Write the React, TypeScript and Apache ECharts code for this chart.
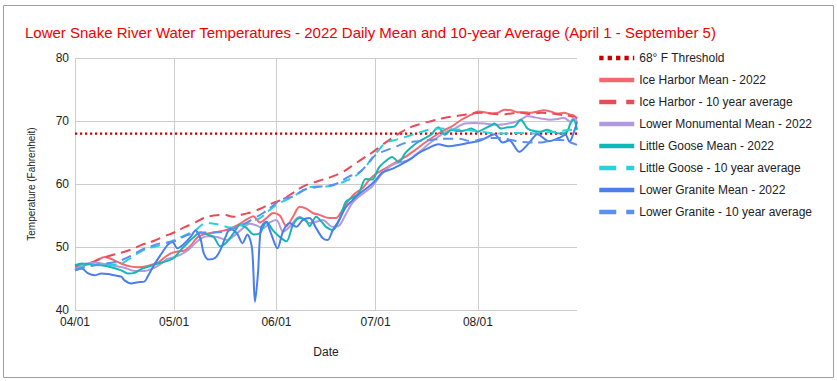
import React, { useEffect, useRef } from "react";
import * as echarts from "echarts";

// Day offsets from April 1 (04/01 = 0) and their month labels
const tickDays = [0, 30, 61, 91, 122];
const tickLabels = ["04/01", "05/01", "06/01", "07/01", "08/01"];
const lastDay = 152;

const seriesNames = [
  "68° F Threshold",
  "Ice Harbor Mean - 2022",
  "Ice Harbor - 10 year average",
  "Lower Monumental Mean - 2022",
  "Little Goose Mean - 2022",
  "Little Goose - 10 year average",
  "Lower Granite Mean - 2022",
  "Lower Granite - 10 year average",
];

const threshold: [number, number][] = [[0, 68], [152, 68]];

const iceHarborMean: [number, number][] = [
  [0, 46.8], [2, 47.0], [5, 47.4], [7, 48.0], [9, 48.4], [11, 48.1], [13, 47.6], [16, 47.0], [19, 46.8],
  [22, 47.0], [25, 47.5], [27, 48.3], [29, 49.0], [31, 49.3], [33, 49.4], [35, 50.2], [37, 51.5], [39, 52.0],
  [42, 52.3], [45, 52.6], [47, 52.9], [50, 53.7], [52, 54.4], [54, 54.9], [56, 53.9], [58, 54.6], [60, 55.4],
  [62, 55.0], [64, 53.3], [66, 54.8], [68, 56.4], [70, 56.1], [72, 55.4], [74, 55.1], [77, 54.6], [79, 54.6],
  [81, 55.9], [83, 57.5], [85, 58.6], [87, 59.3], [89, 60.6], [91, 61.6], [93, 62.2], [95, 62.8], [97, 63.4],
  [100, 64.3], [103, 65.4], [105, 66.2], [108, 67.3], [110, 68.0], [112, 68.6], [114, 69.1], [117, 70.2],
  [120, 71.0], [122, 71.5], [124, 71.4], [126, 71.2], [128, 71.3], [130, 71.8], [132, 71.7], [134, 71.4],
  [136, 71.4], [138, 71.3], [140, 71.5], [142, 71.7], [144, 71.5], [146, 71.2], [148, 71.3], [150, 71.0],
  [151, 70.9], [152, 70.4],
];

const iceHarborAvg: [number, number][] = [
  [0, 47.0], [4, 47.4], [8, 48.2], [11, 48.7], [14, 49.1], [17, 49.6], [20, 50.3], [24, 51.0], [27, 51.7],
  [30, 52.3], [33, 53.1], [36, 53.8], [39, 54.6], [42, 55.0], [45, 55.1], [48, 54.8], [51, 55.2], [54, 55.6],
  [57, 56.3], [60, 57.0], [63, 57.6], [66, 58.6], [69, 59.6], [72, 60.2], [75, 60.7], [78, 61.2], [81, 61.9],
  [84, 62.9], [87, 64.0], [90, 65.0], [93, 66.2], [96, 67.3], [99, 68.3], [102, 69.1], [105, 69.6],
  [108, 70.0], [111, 70.4], [114, 70.7], [117, 70.9], [120, 71.2], [123, 71.3], [126, 71.2], [129, 71.0],
  [132, 71.2], [135, 71.3], [138, 71.1], [141, 71.3], [144, 71.2], [147, 71.0], [150, 70.8], [152, 70.4],
];

const lowerMonumentalMean: [number, number][] = [
  [0, 46.5], [3, 47.3], [6, 47.5], [9, 47.3], [12, 47.0], [15, 46.7], [18, 46.2], [21, 46.2], [24, 46.7],
  [26, 47.3], [28, 48.1], [30, 48.4], [32, 48.8], [34, 49.4], [36, 50.4], [38, 51.3], [40, 51.7], [43, 51.6],
  [46, 51.1], [48, 51.7], [50, 52.6], [53, 53.7], [55, 53.4], [57, 53.0], [59, 53.9], [61, 54.3], [63, 52.4],
  [65, 53.2], [68, 54.8], [71, 53.8], [73, 54.0], [75, 54.3], [78, 53.2], [80, 53.4], [82, 55.2], [84, 57.0],
  [86, 58.0], [88, 58.8], [90, 59.6], [92, 61.0], [94, 62.2], [96, 63.0], [98, 63.4], [101, 63.8], [103, 64.6],
  [105, 65.4], [107, 66.3], [110, 67.5], [112, 68.2], [115, 68.8], [118, 69.6], [121, 69.7], [124, 69.6],
  [127, 69.4], [130, 69.5], [133, 69.8], [135, 70.2], [137, 70.8], [139, 70.6], [141, 70.4], [144, 70.2],
  [146, 70.3], [148, 70.5], [150, 69.9], [151, 70.5], [152, 69.9],
];

const littleGooseMean: [number, number][] = [
  [0, 47.1], [2, 47.4], [5, 47.2], [8, 47.1], [11, 46.8], [14, 46.3], [16, 45.8], [18, 45.9], [20, 46.5],
  [23, 47.0], [26, 47.5], [28, 47.8], [30, 48.3], [32, 49.5], [34, 50.6], [36, 51.6], [38, 52.3], [40, 52.0],
  [42, 51.6], [44, 50.1], [46, 50.8], [48, 52.2], [50, 53.5], [52, 53.0], [54, 52.0], [56, 52.2], [58, 54.0],
  [60, 52.6], [62, 51.6], [64, 50.9], [66, 53.5], [68, 54.6], [70, 54.2], [71, 53.3], [73, 54.8], [75, 53.8],
  [76, 53.2], [78, 52.7], [80, 54.3], [82, 57.2], [84, 57.8], [86, 58.6], [88, 60.8], [90, 60.7], [92, 62.6],
  [94, 63.6], [96, 64.3], [98, 63.5], [100, 64.9], [102, 65.9], [104, 66.7], [106, 67.3], [108, 67.9],
  [109, 68.6], [110, 69.0], [112, 67.8], [114, 68.6], [116, 68.4], [118, 68.5], [120, 68.8], [122, 68.3],
  [124, 68.8], [126, 69.3], [127, 69.6], [129, 68.8], [131, 69.0], [133, 69.1], [135, 70.2], [137, 68.8],
  [139, 68.4], [141, 68.3], [143, 68.6], [145, 68.2], [147, 68.0], [149, 68.3], [150, 69.6], [151, 70.2],
  [152, 68.6],
];

const littleGooseAvg: [number, number][] = [
  [0, 46.6], [4, 47.0], [8, 47.2], [11, 47.2], [14, 47.4], [17, 48.3], [20, 49.3], [23, 49.9], [26, 50.3],
  [30, 51.1], [33, 51.8], [36, 52.5], [40, 53.8], [44, 53.5], [47, 53.1], [50, 53.4], [53, 54.0], [56, 54.6],
  [59, 55.9], [61, 56.7], [64, 57.5], [66, 58.0], [70, 59.3], [73, 59.6], [76, 59.6], [79, 59.9], [82, 60.5],
  [85, 61.3], [88, 62.8], [90, 64.2], [92, 65.4], [94, 66.5], [97, 67.0], [99, 67.3], [102, 67.8],
  [105, 68.3], [108, 68.7], [111, 68.8], [114, 68.7], [117, 68.6], [120, 68.5], [123, 68.3], [126, 68.1],
  [130, 68.0], [134, 68.1], [138, 68.0], [142, 68.2], [146, 68.3], [150, 68.6], [152, 68.3],
];

const lowerGraniteMean: [number, number][] = [
  [0, 46.3], [2, 46.6], [4, 45.8], [6, 45.5], [8, 45.8], [10, 45.7], [12, 45.5], [14, 45.3], [15, 44.7],
  [17, 44.2], [19, 44.4], [21, 44.5], [22, 45.3], [24, 47.2], [26, 48.8], [28, 50.3], [29.5, 50.8], [31, 49.8],
  [33, 50.5], [35, 51.6], [36.5, 52.6], [38, 51.3], [39, 49.0], [40.5, 48.0], [42.5, 48.3], [44, 49.5],
  [45.5, 51.5], [47, 52.9], [49, 52.2], [50.7, 50.6], [52.2, 52.0], [53.6, 49.8], [54.5, 41.3], [55.4, 45.8],
  [56.3, 53.0], [57.8, 54.0], [59.3, 52.2], [61.3, 49.8], [63, 52.5], [65, 53.8], [67, 53.2], [69, 54.3],
  [71, 54.6], [73, 53.0], [75, 51.4], [76.5, 51.1], [78, 52.6], [80, 54.3], [82, 56.3], [84, 57.4], [86, 58.4],
  [89, 59.6], [91, 60.6], [93, 61.8], [96, 62.4], [99, 63.2], [102, 64.1], [104, 64.9], [107, 65.7],
  [110, 66.3], [113, 66.0], [116, 66.2], [119, 66.5], [122, 66.8], [124, 67.2], [127, 67.9], [129.5, 66.6],
  [131.5, 66.9], [134.5, 65.1], [137.5, 66.5], [140, 67.9], [143.5, 66.8], [146.5, 67.3], [148.5, 67.8],
  [149.7, 66.7], [151.3, 68.6], [152, 69.9],
];

const lowerGraniteAvg: [number, number][] = [
  [0, 46.3], [4, 46.9], [8, 47.3], [11, 47.5], [14, 47.9], [17, 48.6], [20, 49.5], [23, 50.1], [26, 50.6],
  [30, 50.9], [34, 51.9], [38, 52.3], [42, 52.3], [45, 52.4], [48, 52.9], [51, 53.6], [54, 54.5], [57, 55.4],
  [60, 56.6], [62, 57.4], [64, 57.8], [66, 58.0], [70, 59.2], [73, 59.5], [76, 59.7], [79, 60.0], [83, 61.2],
  [86, 61.8], [89, 63.4], [91, 64.6], [94, 65.3], [97, 65.9], [100, 66.5], [104, 66.8], [108, 67.0],
  [112, 67.2], [116, 67.2], [120, 66.8], [123, 67.1], [126, 67.3], [129, 67.3], [132, 67.0], [135, 66.7],
  [138, 66.6], [141, 66.6], [144, 66.9], [147, 67.0], [150, 66.6], [152, 66.2],
];

const FONT = "Arial, 'Liberation Sans', Helvetica, sans-serif";

export default function App() {
  const ref = useRef<HTMLDivElement>(null);

  useEffect(() => {
    if (!ref.current) return;
    const chart = echarts.init(ref.current, undefined, { renderer: "svg" });

    const solid = (name: string, data: [number, number][], color: string, z: number) => ({
      name,
      type: "line",
      data,
      symbol: "none",
      smooth: 0.3,
      z,
      lineStyle: { color, width: 2, type: "solid" },
      itemStyle: { color },
      emphasis: { disabled: true },
    });
    const dashed = (name: string, data: [number, number][], color: string, z: number) => ({
      name,
      type: "line",
      data,
      symbol: "none",
      smooth: 0.4,
      z,
      lineStyle: { color, width: 2, type: [10, 6], cap: "butt" },
      itemStyle: { color },
      emphasis: { disabled: true },
    });

    const colors = {
      threshold: "#c40000",
      ihMean: "#f4686f",
      ihAvg: "#ea4a57",
      lm: "#b39ae0",
      lgMean: "#12b8b8",
      lgAvg: "#2ad0da",
      lgrMean: "#4a7eec",
      lgrAvg: "#5b8ff0",
    };

    const hidden = { itemStyle: { opacity: 0 } };
    const solidLegend = { ...hidden, lineStyle: { width: 4.5, type: "solid" } };
    const dashLegend = { ...hidden, lineStyle: { width: 4.5, type: [17, 10], cap: "butt" } };

    chart.setOption({
      animation: false,
      backgroundColor: "#ffffff",
      textStyle: { fontFamily: FONT },
      title: {
        text: "Lower Snake River Water Temperatures - 2022 Daily Mean and 10-year Average (April 1 - September 5)",
        left: 25,
        top: 25,
        padding: 0,
        textStyle: { color: "#ee0000", fontSize: 15, fontWeight: "normal", fontFamily: FONT },
      },
      graphic: [
        {
          type: "rect",
          shape: { x: 3.5, y: 5.5, width: 830, height: 372 },
          style: { fill: "none", stroke: "#9e9e9e", lineWidth: 1 },
          silent: true,
          z: -10,
        },
      ],
      legend: {
        orient: "vertical",
        left: 597,
        top: 52,
        padding: 0,
        itemWidth: 35,
        itemHeight: 14,
        itemGap: 10,
        selectedMode: false,
        itemStyle: { opacity: 0 },
        textStyle: { fontSize: 12, color: "#222222", fontFamily: FONT },
        data: [
          { name: seriesNames[0], ...hidden, lineStyle: { width: 4.5, type: [4.3, 4.1], cap: "butt" } },
          { name: seriesNames[1], ...solidLegend },
          { name: seriesNames[2], ...dashLegend },
          { name: seriesNames[3], ...solidLegend },
          { name: seriesNames[4], ...solidLegend },
          { name: seriesNames[5], ...dashLegend },
          { name: seriesNames[6], ...solidLegend },
          { name: seriesNames[7], ...dashLegend },
        ],
      },
      grid: { left: 75, right: 260, top: 58, bottom: 71, containLabel: false },
      xAxis: {
        type: "value",
        min: 0,
        max: lastDay,
        name: "Date",
        nameLocation: "middle",
        nameGap: 36,
        nameTextStyle: { fontSize: 12, color: "#222222", fontFamily: FONT },
        axisLine: { show: false },
        axisTick: { show: false, customValues: tickDays },
        axisLabel: {
          customValues: tickDays,
          margin: 6,
          fontSize: 12,
          color: "#222222",
          fontFamily: FONT,
          formatter: (v: number) => tickLabels[tickDays.indexOf(Math.round(v))] ?? "",
        },
        splitLine: { show: true, lineStyle: { color: "#cccccc", width: 1 } },
      },
      yAxis: {
        type: "value",
        min: 40,
        max: 80,
        interval: 10,
        name: "Temperature (Fahrenheit)",
        nameLocation: "middle",
        nameGap: 39,
        nameTextStyle: { fontSize: 10, color: "#222222", fontFamily: FONT },
        axisLine: { show: false },
        axisTick: { show: false },
        axisLabel: { margin: 6, fontSize: 12, color: "#222222", fontFamily: FONT },
        splitLine: { show: true, lineStyle: { color: "#cccccc", width: 1 } },
      },
      series: [
        {
          name: seriesNames[0],
          type: "line",
          data: threshold,
          symbol: "none",
          z: 2,
          lineStyle: { color: colors.threshold, width: 2.2, type: [2.2, 2.8], cap: "butt" },
          itemStyle: { color: colors.threshold },
          emphasis: { disabled: true },
        },
        solid(seriesNames[1], iceHarborMean, colors.ihMean, 3),
        dashed(seriesNames[2], iceHarborAvg, colors.ihAvg, 4),
        solid(seriesNames[3], lowerMonumentalMean, colors.lm, 5),
        solid(seriesNames[4], littleGooseMean, colors.lgMean, 6),
        dashed(seriesNames[5], littleGooseAvg, colors.lgAvg, 7),
        solid(seriesNames[6], lowerGraniteMean, colors.lgrMean, 8),
        dashed(seriesNames[7], lowerGraniteAvg, colors.lgrAvg, 9),
      ],
    });

    return () => chart.dispose();
  }, []);

  return (
    <div
      ref={ref}
      style={{ position: "absolute", left: 0, top: 0, width: 837, height: 381, background: "#fff" }}
    />
  );
}
